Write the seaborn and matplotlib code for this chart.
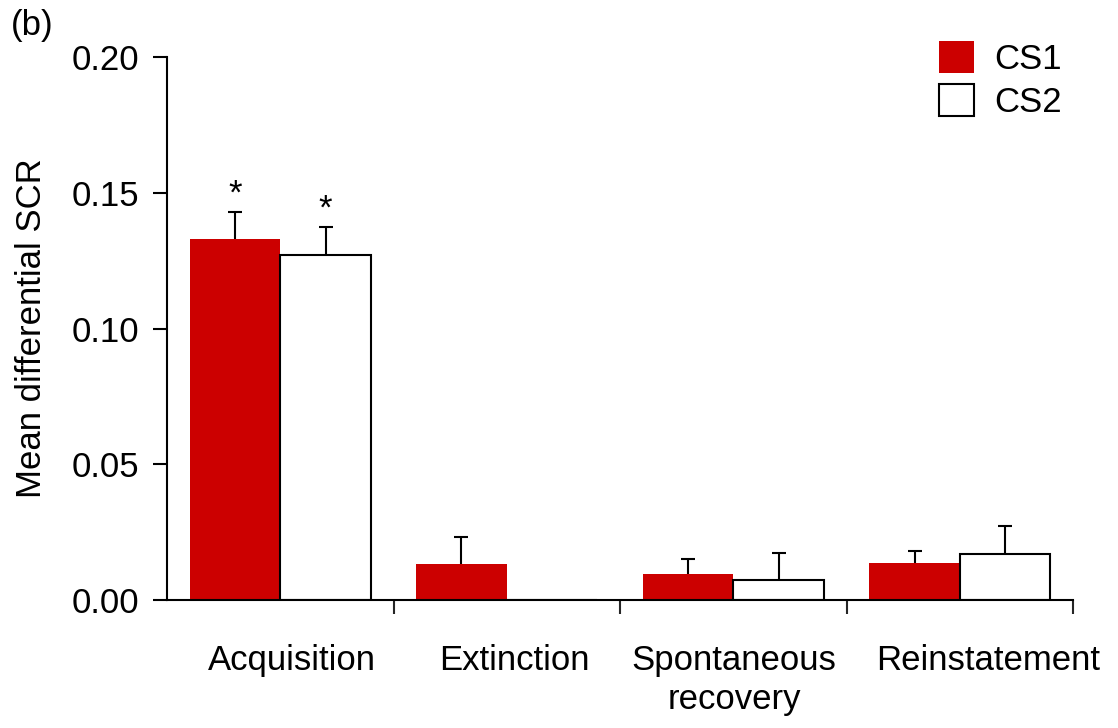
import matplotlib
matplotlib.use("Agg")
import matplotlib.pyplot as plt
import matplotlib.transforms as mtransforms
from matplotlib.patches import Patch
import numpy as np
import pandas as pd
import seaborn as sns

# Mean differential SCR per phase and stimulus, with SEM
phases = ["Acquisition", "Extinction", "Spontaneous\nrecovery", "Reinstatement"]
stimuli = ["CS1", "CS2"]
cs1_mean = [0.133, 0.0133, 0.0094, 0.0135]
cs2_mean = [0.127, 0.0, 0.0074, 0.0171]
cs1_sem = [0.0100, 0.0098, 0.0056, 0.0047]
cs2_sem = [0.0104, 0.0, 0.0100, 0.0102]
significant_cs1 = [True, False, False, False]
significant_cs2 = [True, False, False, False]
y_ticks = [0.00, 0.05, 0.10, 0.15, 0.20]

sns.set_theme(style="ticks")
plt.rcParams["font.family"] = ["Liberation Sans", "DejaVu Sans"]
plt.rcParams["text.color"] = "black"
plt.rcParams["axes.labelcolor"] = "black"

df = pd.DataFrame({
    "phase": phases * 2,
    "stimulus": [stimuli[0]] * len(phases) + [stimuli[1]] * len(phases),
    "scr": cs1_mean + cs2_mean,
})

RED = "#CC0000"
FS = 25
fig = plt.figure(figsize=(11.18, 7.28), dpi=100)
ax = fig.add_axes([0.1494, 0.1758, 0.9598 - 0.1494, 0.9217 - 0.1758])

sns.barplot(data=df, x="phase", y="scr", hue="stimulus", order=phases,
            hue_order=stimuli, palette=[RED, "white"], saturation=1,
            errorbar=None, width=0.8, gap=0, legend=False, ax=ax)

# style bars: red without outline, white with black outline
n = len(phases)
bars = ax.patches
for i, p in enumerate(bars[:2 * n]):
    if i < n:
        p.set_edgecolor(RED)
        p.set_linewidth(0)
    else:
        p.set_edgecolor("black")
        p.set_linewidth(1.5)

# upward-only error bars from the bar tops
means = cs1_mean + cs2_mean
sems = cs1_sem + cs2_sem
stars = significant_cs1 + significant_cs2
for i, p in enumerate(bars[:2 * n]):
    xc = p.get_x() + p.get_width() / 2
    if sems[i] > 0:
        _, caps, _ = ax.errorbar(xc, means[i], yerr=[[0], [sems[i]]], fmt="none",
                                 ecolor="black", elinewidth=1.5, capsize=5,
                                 capthick=1.5, zorder=1)
        caps[0].set_visible(False)
    if stars[i]:
        ax.annotate("*", (xc, means[i] + sems[i]), xytext=(0, 1),
                    textcoords="offset points", ha="center", va="bottom",
                    fontsize=FS, color="black")

ax.set_xlim(-0.5, n - 0.5)
ax.set_ylim(0, 0.2)
ax.set_yticks(y_ticks)
ax.set_yticklabels([f"{v:.2f}" for v in y_ticks])
ax.tick_params(axis="y", direction="out", length=10, width=1.5, pad=10,
               labelsize=FS, colors="black")

# category labels without marks; boundary marks as minor ticks
ax.set_xticks(range(n))
ax.set_xticklabels(phases, fontsize=FS, linespacing=1.2)
ax.tick_params(axis="x", which="major", length=0, pad=32, colors="black")
ax.set_xticks(np.arange(0.5, n, 1.0), minor=True)
ax.tick_params(axis="x", which="minor", direction="out", length=10, width=1.5)
label_shift_px = [12, 8, 1, 28]
for lab, dx in zip(ax.get_xticklabels(), label_shift_px):
    lab.set_transform(lab.get_transform() +
                      mtransforms.ScaledTranslation(dx / 100, 0, fig.dpi_scale_trans))

ax.set_xlabel("")
ax.set_ylabel("Mean differential SCR", fontsize=FS, labelpad=17, color="black")

for side in ("top", "right"):
    ax.spines[side].set_visible(False)
for side in ("left", "bottom"):
    ax.spines[side].set_linewidth(1.5)
    ax.spines[side].set_color("black")

handles = [Patch(facecolor=RED, edgecolor=RED, linewidth=0),
           Patch(facecolor="white", edgecolor="black", linewidth=1.5)]
fig.legend(handles, stimuli, loc="upper left",
           bbox_to_anchor=(939 / 1118, 1 - 41 / 728), frameon=False,
           fontsize=FS, handlelength=1.0, handleheight=1.05,
           handletextpad=0.6, labelspacing=0.22, borderpad=0,
           borderaxespad=0)

fig.text(0.010, 0.988, "(b)", fontsize=FS, ha="left", va="top")

fig.savefig("out.png", dpi=100, facecolor="white")
